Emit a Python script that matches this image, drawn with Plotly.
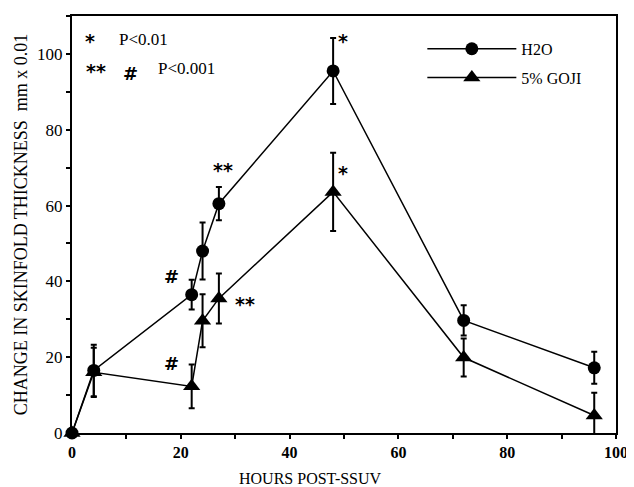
import plotly.graph_objects as go

hours = [0, 4, 22, 24, 27, 48, 72, 96]
h2o = [0, 16.5, 36.5, 48, 60.5, 95.5, 29.7, 17.2]
h2o_err = [0, 6.8, 3.9, 7.5, 4.4, 8.7, 4.0, 4.2]
goji = [0, 16, 12.3, 29.6, 35.5, 63.6, 19.9, 4.6]
goji_err = [0, 6.5, 5.8, 7.0, 6.6, 10.3, 5.0, 6.0]

FONT = "Liberation Serif"
SYM = "DejaVu Sans"

fig = go.Figure()
fig.add_trace(go.Scatter(
    x=hours, y=h2o, name="H2O", mode="lines+markers", legendgroup="a",
    line=dict(color="black", width=1.5),
    marker=dict(symbol="circle", size=13, color="black"),
    error_y=dict(type="data", array=h2o_err, color="black", thickness=2, width=3),
    cliponaxis=False,
))
fig.add_trace(go.Scatter(
    x=hours, y=goji, name="5% GOJI", mode="lines+markers", legendgroup="b",
    line=dict(color="black", width=1.5),
    marker=dict(symbol="triangle-up", size=15, color="black"),
    error_y=dict(type="data", array=goji_err, color="black", thickness=2, width=3),
    cliponaxis=False,
))


def mark(x, y, t, size=19, xr="x", yr="y", xa="center", fam=SYM):
    fig.add_annotation(x=x, y=y, xref=xr, yref=yr, text=t, showarrow=False,
                       font=dict(family=fam, size=size, color="black"),
                       xanchor=xa, yanchor="middle")


# significance markers near points
mark(27.7, 69.4, "<b>**</b>")
mark(49.8, 103.3, "<b>*</b>")
mark(49.8, 68.6, "<b>*</b>")
mark(18.3, 41.4, "<b>#</b>", size=18)
mark(18.3, 18.3, "<b>#</b>", size=18)
mark(31.8, 34.0, "<b>**</b>")

# key in upper left
mark(0.033, 0.940, "<b>*</b>", xr="paper", yr="paper")
mark(0.082, 0.944, "P<0.01", size=17, xr="paper", yr="paper", xa="left", fam=FONT)
mark(0.045, 0.868, "<b>**</b>", xr="paper", yr="paper")
mark(0.107, 0.862, "<b>#</b>", size=18, xr="paper", yr="paper")
mark(0.154, 0.873, "P<0.001", size=17, xr="paper", yr="paper", xa="left", fam=FONT)

# x axis title
mark(0.438, -0.110, "HOURS POST-SSUV", size=16, xr="paper", yr="paper", fam=FONT)

fig.update_layout(
    width=626, height=479,
    margin=dict(l=64, r=10, t=6, b=54),
    paper_bgcolor="white", plot_bgcolor="white",
    font=dict(family=FONT, color="black"),
    showlegend=True,
    legend=dict(x=0.644, y=0.962, xanchor="left", yanchor="top",
                font=dict(family=FONT, size=16), itemwidth=89,
                tracegroupgap=5, bgcolor="rgba(0,0,0,0)"),
    xaxis=dict(range=[0, 100], dtick=20, showgrid=False, zeroline=False,
               showline=True, linecolor="black", linewidth=2, mirror=True,
               ticks="outside", ticklen=4, tickwidth=1.5, tickcolor="black",
               minor=dict(dtick=10, ticks="outside", ticklen=4, tickwidth=1.5, tickcolor="black"),
               tickfont=dict(family=FONT, size=16, color="black"),
               ticklabeloverflow="allow",
               tickprefix="<b>", ticksuffix="</b>"),
    yaxis=dict(range=[0, 110], tickvals=[0, 20, 40, 60, 80, 100], showgrid=False, zeroline=False,
               showline=True, linecolor="black", linewidth=2, mirror=True,
               ticks="outside", ticklen=4, tickwidth=1.5, tickcolor="black",
               minor=dict(dtick=10, ticks="outside", ticklen=4, tickwidth=1.5, tickcolor="black"),
               tickfont=dict(family=FONT, size=17, color="black"),
               tickprefix="<b>", ticksuffix="</b>",
               title=dict(text="CHANGE IN SKINFOLD THICKNESS  mm x 0.01",
                          font=dict(family=FONT, size=18), standoff=5)),
)

fig.write_html("out.html")
